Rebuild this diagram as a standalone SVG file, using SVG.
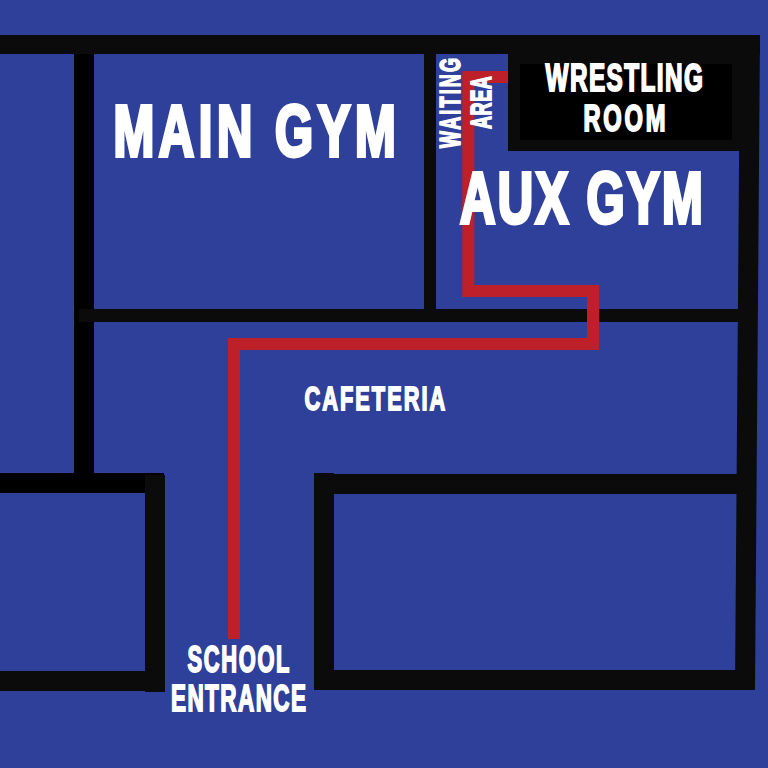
<svg xmlns="http://www.w3.org/2000/svg" width="768" height="768" viewBox="0 0 768 768">
<style>
.w{fill:#0b0b0b}
.k{fill:#000}
.t{font-family:"Liberation Sans",Arial,sans-serif;font-weight:700;fill:#fff;stroke:#fff}
</style>
<rect width="768" height="768" fill="#2e409a"/>
<g id="walls">
<rect class="k" x="74" y="54" width="20" height="436"/>
<rect class="w" x="0" y="35" width="760" height="19"/>
<rect class="w" x="424" y="54" width="12" height="255"/>
<rect class="w" x="79" y="309" width="664" height="13"/>
<rect class="w" x="508" y="35" width="240" height="116"/>
<polygon class="w" points="740,35 760,35 755,690 735,690"/>
<rect class="k" x="0" y="473" width="164" height="20"/>
<rect class="w" x="145" y="475" width="20" height="217"/>
<rect class="w" x="0" y="671" width="146" height="20"/>
<rect class="w" x="314" y="473" width="20" height="217"/>
<rect class="w" x="334" y="474" width="408" height="20"/>
<rect class="w" x="334" y="670" width="410" height="20"/>
<rect class="k" x="520" y="64" width="212" height="76"/>
</g>
<g id="connectors">
<path d="M508 77H468.300V291H593V344H234V639" fill="none" stroke="#bd2028" stroke-width="12"/>
</g>
<g id="main-gym"><text class="t" transform="translate(113.500 156.300) scale(.68 1)" font-size="72" stroke-width="4" textLength="415" lengthAdjust="spacing">MAIN GYM</text></g>
<g id="aux-gym"><text class="t" transform="translate(460 223) scale(.68 1)" font-size="72" stroke-width="4" textLength="357" lengthAdjust="spacing">AUX GYM</text></g>
<g id="wrestling-room">
<text class="t" transform="translate(545.500 90.700) scale(.64 1)" font-size="38" stroke-width="2" textLength="246" lengthAdjust="spacing">WRESTLING</text>
<text class="t" transform="translate(583.500 131.100) scale(.64 1)" font-size="37" stroke-width="2" textLength="128" lengthAdjust="spacing">ROOM</text>
</g>
<g id="waiting-area">
<text class="t" transform="translate(460.300 148) rotate(-90) scale(.6 1)" font-size="30" stroke-width="1.700" textLength="150" lengthAdjust="spacing">WAITING</text>
<text class="t" transform="translate(491.300 129) rotate(-90) scale(.6 1)" font-size="30" stroke-width="1.700" textLength="88" lengthAdjust="spacing">AREA</text>
</g>
<g id="cafeteria"><text class="t" transform="translate(304.500 410) scale(.64 1)" font-size="34" stroke-width="1.800" textLength="220" lengthAdjust="spacing">CAFETERIA</text></g>
<g id="school-entrance">
<text class="t" transform="translate(187.500 671.800) scale(.6 1)" font-size="36.500" stroke-width="1.900" textLength="170" lengthAdjust="spacing">SCHOOL</text>
<text class="t" transform="translate(171 710.800) scale(.6 1)" font-size="37.500" stroke-width="1.900" textLength="225" lengthAdjust="spacing">ENTRANCE</text>
</g>
</svg>
